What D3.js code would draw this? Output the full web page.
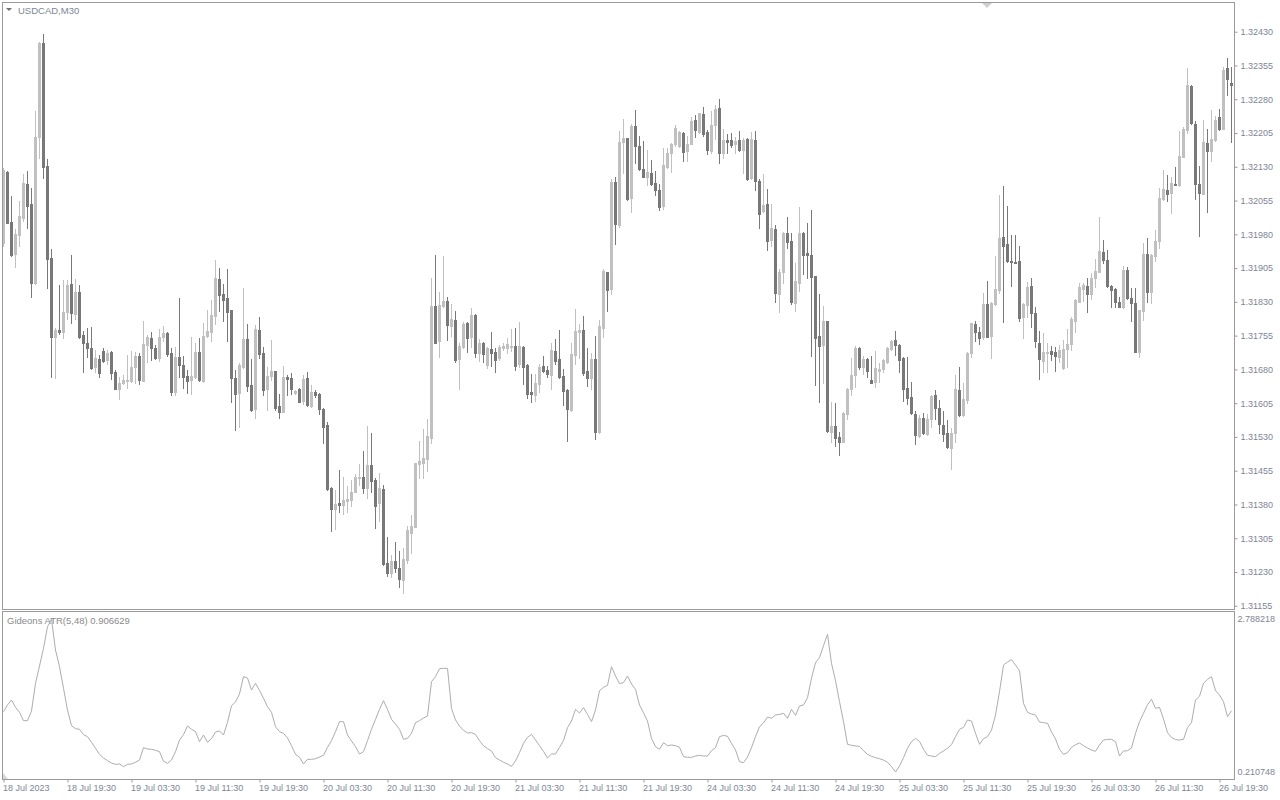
<!DOCTYPE html>
<html><head><meta charset="utf-8">
<script src="https://cdn.jsdelivr.net/npm/d3@7"></script>
<style>html,body{margin:0;padding:0;background:#fff;overflow:hidden}svg{display:block}text{font-family:"Liberation Sans",Arial,sans-serif}</style>
</head><body><svg id="c" width="1280" height="800"></svg>
<script>
const symbolTitle = "USDCAD,M30";
const atrTitle = "Gideons ATR(5,48) 0.906629";
const opens=[1.31961,1.32119,1.32008,1.31936,1.31979,1.32017,1.32092,1.32048,1.31871,1.32197,
1.32406,1.32132,1.31928,1.31753,1.31768,1.31764,1.31808,1.31870,1.31804,1.31852,
1.31756,1.31738,1.31727,1.31685,1.31702,1.31721,1.31701,1.31719,1.31674,1.31637,
1.31649,1.31655,1.31655,1.31686,1.31710,1.31655,1.31735,1.31749,1.31727,1.31706,
1.31751,1.31760,1.31717,1.31629,1.31707,1.31690,1.31665,1.31656,1.31664,1.31719,
1.31655,1.31754,1.31764,1.31799,1.31881,1.31847,1.31838,1.31812,1.31661,1.31628,
1.31686,1.31748,1.31645,1.31592,1.31768,1.31717,1.31636,1.31665,1.31676,1.31599,
1.31586,1.31663,1.31661,1.31628,1.31637,1.31610,1.31661,1.31599,1.31630,1.31625,
1.31592,1.31556,1.31417,1.31370,1.31383,1.31379,1.31388,1.31390,1.31408,1.31439,
1.31440,1.31417,1.31468,1.31434,1.31384,1.31414,1.31249,1.31228,1.31254,1.31239,
1.31212,1.31257,1.31316,1.31331,1.31469,1.31473,1.31480,1.31528,1.31821,1.31742,
1.31821,1.31832,1.31777,1.31790,1.31703,1.31730,1.31784,1.31751,1.31801,1.31716,
1.31739,1.31690,1.31726,1.31719,1.31706,1.31728,1.31728,1.31730,1.31732,1.31691,
1.31730,1.31690,1.31629,1.31624,1.31647,1.31688,1.31679,1.31668,1.31721,1.31703,
1.31665,1.31634,1.31590,1.31712,1.31762,1.31768,1.31676,1.31661,1.31703,1.31540,
1.31771,1.31896,1.31858,1.32097,1.32001,1.32186,1.32195,1.32061,1.32221,1.32176,
1.32125,1.32108,1.32117,1.32095,1.32078,1.32043,1.32129,1.32160,1.32180,1.32177,
1.32204,1.32166,1.32181,1.32234,1.32208,1.32247,1.32208,1.32165,1.32223,1.32260,
1.32161,1.32189,1.32189,1.32181,1.32189,1.32167,1.32192,1.32104,1.32189,1.32099,
1.32032,1.32047,1.31967,1.31992,1.31848,1.31896,1.31984,1.31965,1.31828,1.31872,
1.31984,1.31938,1.31934,1.31887,1.31754,1.31734,1.31787,1.31542,1.31554,1.31530,
1.31519,1.31582,1.31636,1.31668,1.31728,1.31686,1.31703,1.31656,1.31653,1.31677,
1.31681,1.31697,1.31725,1.31745,1.31734,1.31706,1.31639,1.31619,1.31581,1.31532,
1.31573,1.31536,1.31570,1.31623,1.31595,1.31556,1.31539,1.31506,1.31538,1.31634,
1.31579,1.31612,1.31716,1.31781,1.31762,1.31751,1.31825,1.31755,1.31825,1.31856,
1.31973,1.31958,1.31921,1.31919,1.31921,1.31797,1.31823,1.31865,1.31806,1.31739,
1.31699,1.31717,1.31721,1.31718,1.31708,1.31682,1.31725,1.31736,1.31788,1.31830,
1.31858,1.31865,1.31847,1.31884,1.31897,1.31941,1.31923,1.31865,1.31858,1.31829,
1.31819,1.31901,1.31839,1.31828,1.31718,1.31810,1.31936,1.31852,1.31932,1.31965,
1.32058,1.32078,1.32072,1.32092,1.32090,1.32152,1.32212,1.32309,1.32224,1.32092,
1.32070,1.32182,1.32166,1.32189,1.32240,1.32215,1.32349,1.32315];
const highs=[1.32127,1.32121,1.32066,1.31992,1.32054,1.32114,1.32121,1.32082,1.32254,1.32407,
1.32425,1.32147,1.31947,1.31771,1.31867,1.31878,1.31878,1.31934,1.31881,1.31867,
1.31766,1.31771,1.31775,1.31723,1.31712,1.31727,1.31723,1.31721,1.31679,1.31664,
1.31668,1.31712,1.31721,1.31719,1.31716,1.31788,1.31756,1.31764,1.31734,1.31769,
1.31776,1.31762,1.31727,1.31730,1.31839,1.31710,1.31679,1.31753,1.31739,1.31749,
1.31782,1.31813,1.31834,1.31924,1.31905,1.31870,1.31903,1.31813,1.31679,1.31695,
1.31860,1.31781,1.31703,1.31779,1.31797,1.31729,1.31685,1.31745,1.31677,1.31625,
1.31688,1.31668,1.31671,1.31634,1.31639,1.31668,1.31674,1.31645,1.31634,1.31627,
1.31594,1.31564,1.31418,1.31412,1.31457,1.31440,1.31421,1.31434,1.31448,1.31470,
1.31499,1.31554,1.31539,1.31438,1.31450,1.31423,1.31308,1.31268,1.31296,1.31277,
1.31283,1.31332,1.31357,1.31473,1.31522,1.31548,1.31570,1.31884,1.31934,1.31852,
1.31932,1.31841,1.31825,1.31810,1.31738,1.31786,1.31786,1.31816,1.31802,1.31747,
1.31740,1.31729,1.31762,1.31727,1.31734,1.31739,1.31749,1.31769,1.31771,1.31786,
1.31733,1.31692,1.31670,1.31670,1.31691,1.31710,1.31688,1.31739,1.31747,1.31768,
1.31680,1.31636,1.31739,1.31814,1.31781,1.31799,1.31727,1.31716,1.31754,1.31790,
1.31902,1.31897,1.32102,1.32107,1.32209,1.32236,1.32195,1.32224,1.32256,1.32198,
1.32187,1.32167,1.32145,1.32121,1.32091,1.32172,1.32171,1.32183,1.32223,1.32209,
1.32208,1.32199,1.32241,1.32246,1.32250,1.32262,1.32212,1.32254,1.32267,1.32280,
1.32215,1.32202,1.32204,1.32197,1.32209,1.32195,1.32195,1.32207,1.32209,1.32102,
1.32115,1.32081,1.32047,1.32001,1.31903,1.31986,1.32019,1.31984,1.31917,1.32041,
1.31986,1.32006,1.32034,1.31888,1.31847,1.31821,1.31788,1.31607,1.31605,1.31540,
1.31586,1.31639,1.31706,1.31733,1.31730,1.31710,1.31705,1.31710,1.31721,1.31695,
1.31703,1.31730,1.31745,1.31766,1.31736,1.31708,1.31708,1.31653,1.31588,1.31579,
1.31584,1.31580,1.31623,1.31634,1.31612,1.31588,1.31568,1.31549,1.31668,1.31685,
1.31650,1.31718,1.31784,1.31788,1.31775,1.31849,1.31876,1.31830,1.31932,1.32067,
1.32087,1.32043,1.31978,1.31978,1.31955,1.31827,1.31875,1.31882,1.31819,1.31766,
1.31760,1.31738,1.31733,1.31730,1.31734,1.31745,1.31769,1.31797,1.31836,1.31871,
1.31872,1.31882,1.31893,1.31925,1.32019,1.31967,1.31945,1.31867,1.31860,1.31841,
1.31910,1.31907,1.31860,1.31860,1.31813,1.31960,1.31971,1.31936,1.31990,1.32082,
1.32123,1.32112,1.32107,1.32129,1.32210,1.32219,1.32349,1.32312,1.32232,1.32132,
1.32234,1.32213,1.32256,1.32243,1.32258,1.32352,1.32371,1.32352];
const lows=[1.31954,1.32005,1.31932,1.31908,1.31953,1.32010,1.31995,1.31840,1.31870,1.32150,
1.32106,1.31860,1.31662,1.31661,1.31759,1.31749,1.31791,1.31784,1.31793,1.31749,
1.31675,1.31708,1.31680,1.31674,1.31664,1.31696,1.31693,1.31658,1.31636,1.31614,
1.31647,1.31639,1.31653,1.31649,1.31647,1.31654,1.31697,1.31701,1.31703,1.31699,
1.31742,1.31710,1.31622,1.31622,1.31664,1.31638,1.31628,1.31625,1.31660,1.31655,
1.31653,1.31753,1.31742,1.31781,1.31810,1.31788,1.31742,1.31608,1.31545,1.31551,
1.31682,1.31633,1.31588,1.31571,1.31705,1.31623,1.31590,1.31656,1.31590,1.31571,
1.31585,1.31623,1.31625,1.31625,1.31607,1.31602,1.31599,1.31596,1.31619,1.31581,
1.31517,1.31412,1.31320,1.31325,1.31364,1.31358,1.31363,1.31377,1.31407,1.31423,
1.31406,1.31395,1.31407,1.31327,1.31344,1.31245,1.31220,1.31218,1.31229,1.31197,
1.31183,1.31251,1.31273,1.31330,1.31438,1.31439,1.31455,1.31517,1.31738,1.31708,
1.31819,1.31745,1.31755,1.31696,1.31636,1.31727,1.31718,1.31730,1.31708,1.31699,
1.31696,1.31682,1.31688,1.31675,1.31701,1.31723,1.31716,1.31721,1.31679,1.31686,
1.31647,1.31616,1.31608,1.31610,1.31630,1.31674,1.31662,1.31636,1.31693,1.31660,
1.31601,1.31522,1.31588,1.31693,1.31705,1.31668,1.31644,1.31636,1.31525,1.31539,
1.31751,1.31810,1.31847,1.31958,1.31997,1.32117,1.32056,1.32030,1.32139,1.32123,
1.32107,1.32090,1.32090,1.32067,1.32034,1.32036,1.32127,1.32119,1.32177,1.32175,
1.32143,1.32143,1.32180,1.32197,1.32206,1.32199,1.32158,1.32160,1.32192,1.32139,
1.32150,1.32160,1.32175,1.32161,1.32165,1.32117,1.32101,1.32102,1.32078,1.31995,
1.32030,1.31945,1.31955,1.31830,1.31808,1.31872,1.31949,1.31825,1.31810,1.31855,
1.31892,1.31882,1.31710,1.31645,1.31608,1.31650,1.31540,1.31519,1.31510,1.31490,
1.31518,1.31570,1.31622,1.31641,1.31681,1.31670,1.31664,1.31649,1.31641,1.31653,
1.31675,1.31695,1.31723,1.31713,1.31674,1.31610,1.31603,1.31582,1.31514,1.31529,
1.31536,1.31534,1.31553,1.31569,1.31538,1.31521,1.31506,1.31458,1.31518,1.31577,
1.31577,1.31605,1.31708,1.31743,1.31736,1.31747,1.31751,1.31706,1.31823,1.31849,
1.31786,1.31919,1.31865,1.31916,1.31788,1.31750,1.31797,1.31775,1.31730,1.31658,
1.31674,1.31675,1.31701,1.31677,1.31697,1.31681,1.31686,1.31723,1.31762,1.31829,
1.31832,1.31808,1.31837,1.31862,1.31896,1.31917,1.31864,1.31819,1.31818,1.31818,
1.31817,1.31836,1.31788,1.31718,1.31708,1.31790,1.31830,1.31827,1.31921,1.31950,
1.32056,1.32054,1.32028,1.32089,1.32088,1.32151,1.32206,1.32226,1.32058,1.31977,
1.32069,1.32030,1.32143,1.32187,1.32212,1.32213,1.32289,1.32186];
const closes=[1.32123,1.32006,1.31934,1.31981,1.32021,1.32093,1.32043,1.31872,1.32197,1.32406,
1.32130,1.31926,1.31751,1.31768,1.31762,1.31807,1.31867,1.31806,1.31852,1.31753,
1.31738,1.31727,1.31684,1.31705,1.31673,1.31699,1.31716,1.31671,1.31637,1.31649,
1.31656,1.31657,1.31686,1.31710,1.31656,1.31736,1.31753,1.31727,1.31706,1.31753,
1.31760,1.31714,1.31629,1.31707,1.31690,1.31664,1.31655,1.31665,1.31719,1.31656,
1.31755,1.31765,1.31801,1.31882,1.31845,1.31834,1.31808,1.31661,1.31625,1.31690,
1.31748,1.31643,1.31590,1.31770,1.31714,1.31634,1.31665,1.31676,1.31595,1.31586,
1.31663,1.31659,1.31636,1.31632,1.31608,1.31659,1.31601,1.31629,1.31623,1.31591,
1.31553,1.31414,1.31370,1.31381,1.31379,1.31390,1.31392,1.31407,1.31440,1.31442,
1.31417,1.31468,1.31433,1.31377,1.31416,1.31247,1.31228,1.31254,1.31239,1.31214,
1.31259,1.31323,1.31333,1.31472,1.31477,1.31484,1.31532,1.31821,1.31739,1.31823,
1.31832,1.31779,1.31792,1.31701,1.31732,1.31781,1.31750,1.31801,1.31717,1.31739,
1.31714,1.31727,1.31717,1.31701,1.31730,1.31733,1.31736,1.31732,1.31688,1.31732,
1.31686,1.31625,1.31625,1.31649,1.31686,1.31676,1.31670,1.31723,1.31699,1.31664,
1.31633,1.31592,1.31714,1.31766,1.31768,1.31673,1.31661,1.31703,1.31542,1.31776,
1.31898,1.31856,1.32097,1.32003,1.32186,1.32195,1.32058,1.32221,1.32176,1.32125,
1.32108,1.32118,1.32092,1.32078,1.32041,1.32134,1.32161,1.32181,1.32216,1.32208,
1.32163,1.32181,1.32232,1.32212,1.32249,1.32203,1.32167,1.32223,1.32258,1.32161,
1.32189,1.32186,1.32178,1.32187,1.32167,1.32189,1.32103,1.32192,1.32099,1.32025,
1.32045,1.31965,1.31994,1.31850,1.31896,1.31984,1.31964,1.31829,1.31876,1.31982,
1.31934,1.31934,1.31886,1.31750,1.31732,1.31787,1.31544,1.31554,1.31528,1.31519,
1.31584,1.31636,1.31668,1.31728,1.31686,1.31703,1.31676,1.31650,1.31682,1.31681,
1.31701,1.31728,1.31743,1.31734,1.31701,1.31636,1.31617,1.31584,1.31534,1.31573,
1.31539,1.31570,1.31621,1.31594,1.31558,1.31537,1.31508,1.31538,1.31636,1.31579,
1.31614,1.31716,1.31782,1.31762,1.31750,1.31825,1.31753,1.31827,1.31858,1.31971,
1.31953,1.31921,1.31919,1.31917,1.31795,1.31825,1.31862,1.31806,1.31742,1.31703,
1.31718,1.31719,1.31714,1.31710,1.31723,1.31725,1.31736,1.31792,1.31834,1.31862,
1.31867,1.31847,1.31884,1.31898,1.31943,1.31923,1.31865,1.31856,1.31829,1.31819,
1.31901,1.31838,1.31827,1.31719,1.31812,1.31936,1.31852,1.31934,1.31965,1.32060,
1.32080,1.32069,1.32093,1.32090,1.32154,1.32215,1.32312,1.32228,1.32092,1.32072,
1.32184,1.32166,1.32191,1.32235,1.32214,1.32346,1.32324,1.32312];
const atrValues=[1.227,1.340,1.424,1.300,1.216,1.076,1.076,1.238,1.705,1.997,
2.294,2.659,2.788,2.266,1.985,1.620,1.255,0.991,0.941,0.930,
0.840,0.806,0.711,0.610,0.508,0.447,0.402,0.362,0.340,0.346,
0.301,0.340,0.346,0.374,0.413,0.621,0.598,0.593,0.576,0.553,
0.391,0.357,0.413,0.553,0.750,0.840,0.986,0.930,0.890,0.722,
0.834,0.711,0.772,0.885,0.902,0.834,1.048,1.328,1.390,1.525,
1.817,1.794,1.592,1.705,1.587,1.452,1.311,1.216,0.974,0.890,
0.862,0.784,0.654,0.508,0.458,0.346,0.424,0.424,0.435,0.463,
0.492,0.626,0.739,0.890,1.059,1.059,0.834,0.733,0.638,0.514,
0.553,0.739,0.930,1.098,1.266,1.412,1.266,1.098,1.019,0.930,
0.761,0.778,0.862,1.042,1.076,1.120,1.154,1.733,1.817,1.952,
1.957,1.957,1.283,1.087,0.986,0.913,0.868,0.873,0.845,0.739,
0.654,0.604,0.565,0.452,0.413,0.374,0.346,0.306,0.396,0.537,
0.694,0.795,0.845,0.750,0.654,0.559,0.447,0.514,0.514,0.626,
0.739,0.958,1.070,1.266,1.205,1.295,1.182,1.059,1.255,1.581,
1.637,1.671,1.985,1.828,1.699,1.716,1.828,1.693,1.603,1.339,
1.210,1.070,0.778,0.638,0.593,0.705,0.654,0.666,0.654,0.626,
0.469,0.458,0.458,0.480,0.492,0.480,0.480,0.570,0.621,0.806,
0.828,0.812,0.694,0.581,0.385,0.368,0.464,0.621,0.806,0.974,
1.036,1.137,1.115,1.171,1.182,1.199,1.115,1.266,1.165,1.323,
1.339,1.463,1.789,2.053,2.137,2.339,2.530,2.041,1.749,1.396,
1.059,0.677,0.660,0.649,0.643,0.570,0.508,0.475,0.452,0.435,
0.413,0.374,0.301,0.211,0.312,0.452,0.610,0.722,0.778,0.727,
0.593,0.492,0.480,0.469,0.525,0.565,0.610,0.671,0.806,0.930,
0.963,1.087,1.070,0.862,0.677,0.772,0.806,0.918,1.171,1.564,
2.013,2.064,2.103,2.013,1.918,1.368,1.216,1.188,1.171,1.053,
1.042,1.031,0.885,0.767,0.593,0.508,0.537,0.626,0.671,0.699,
0.654,0.615,0.581,0.559,0.666,0.750,0.761,0.761,0.722,0.480,
0.565,0.570,0.615,0.862,1.059,1.199,1.345,1.435,1.283,1.300,
1.104,0.873,0.795,0.756,0.750,0.761,0.958,1.042,1.424,1.486,
1.705,1.772,1.817,1.581,1.508,1.396,1.143,1.244];
const timeLabels=["18 Jul 2023","18 Jul 19:30","19 Jul 03:30","19 Jul 11:30","19 Jul 19:30","20 Jul 03:30","20 Jul 11:30","20 Jul 19:30","21 Jul 03:30","21 Jul 11:30","21 Jul 19:30","24 Jul 03:30","24 Jul 11:30","24 Jul 19:30","25 Jul 03:30","25 Jul 11:30","25 Jul 19:30","26 Jul 03:30","26 Jul 11:30","26 Jul 19:30"];
const timeLabelBars=[0,16,32,48,64,80,96,112,128,144,160,176,192,208,224,240,256,272,288,304];
const priceTicks=[1.31155,1.31230,1.31305,1.31380,1.31455,1.31530,1.31605,1.31680,1.31755,1.31830,1.31905,1.31980,1.32055,1.32130,1.32205,1.32280,1.32355,1.32430];
const atrTicks=[0.210748,2.788218];

const C_UP="#c0c0c0", C_DN="#787878", C_TXT="#7d8596", C_FRAME="#9a9a9a", C_ATR="#adadad";
const svg=d3.select("#c");
const n=opens.length;
const x=d3.scaleLinear().domain([0,n-1]).range([3,3+4*(n-1)]);
const y=d3.scaleLinear().domain([1.31150,1.32496]).range([608,2]);
const ya=d3.scaleLinear().domain([atrTicks[0],atrTicks[1]]).range([772,619]);

const bars=d3.range(n).map(i=>({i,o:opens[i],h:highs[i],l:lows[i],c:closes[i]}));
const gC=svg.append("g").attr("shape-rendering","crispEdges");
gC.selectAll("rect.w").data(bars).join("rect").attr("class","w")
 .attr("x",d=>x(d.i)).attr("width",1)
 .attr("y",d=>Math.round(y(d.h))).attr("height",d=>Math.max(1,Math.round(y(d.l))-Math.round(y(d.h))+1))
 .attr("fill",d=>d.c>=d.o?C_UP:C_DN);
gC.selectAll("rect.b").data(bars).join("rect").attr("class","b")
 .attr("x",d=>x(d.i)-1).attr("width",3)
 .attr("y",d=>Math.round(y(Math.max(d.o,d.c))))
 .attr("height",d=>Math.max(1,Math.round(y(Math.min(d.o,d.c)))-Math.round(y(Math.max(d.o,d.c)))+1))
 .attr("fill",d=>d.c>=d.o?C_UP:C_DN);

// frames
svg.append("rect").attr("x",2.5).attr("y",2.5).attr("width",1232).attr("height",607).attr("fill","none").attr("stroke",C_FRAME);
svg.append("rect").attr("x",2.5).attr("y",611.5).attr("width",1232).attr("height",168).attr("fill","none").attr("stroke",C_FRAME);

// ATR line
svg.append("path").datum(atrValues).attr("fill","none").attr("stroke",C_ATR).attr("stroke-width",1)
 .attr("d",d3.line().x((d,i)=>x(i)+0.5).y(d=>ya(d)));

// price axis
const pa=svg.append("g").attr("transform","translate(1234.5,0)")
 .call(d3.axisRight(y).tickValues(priceTicks).tickFormat(d3.format(".5f")).tickSize(3).tickPadding(3));
const aa=svg.append("g").attr("transform","translate(1234.5,0)")
 .call(d3.axisRight(ya).tickValues(atrTicks).tickFormat(d3.format(".6f")).tickSize(0).tickPadding(3));
const ta=svg.append("g").attr("transform","translate(0,779.5)")
 .call(d3.axisBottom(d3.scaleLinear().domain(x.domain()).range([3.5,3.5+4*(n-1)])).tickValues(timeLabelBars).tickFormat((d,k)=>timeLabels[k]).tickSize(3).tickPadding(2));
ta.selectAll("text").attr("text-anchor","start").attr("x",-1);
[pa,aa,ta].forEach(g=>{g.select(".domain").remove();g.selectAll("line").attr("stroke",C_FRAME);
 g.selectAll("text").attr("fill",C_TXT).style("font-size","9px").style("font-family","'Liberation Sans',Arial,sans-serif");});

// titles
svg.append("path").attr("d","M6,8 L12,8 L9,11 Z").attr("fill","#707070");
svg.append("text").attr("x",18).attr("y",14).attr("fill",C_TXT).style("font-size","9.5px").text(symbolTitle);
svg.append("text").attr("x",7).attr("y",624).attr("fill","#8a8a8a").style("font-size","9.5px").text(atrTitle);
svg.append("path").attr("d","M982,3 L992,3 L987,8 Z").attr("fill","#cfcfcf");
svg.append("path").attr("d","M3,773 L3,779 L8,779 Z").attr("fill","#d8d8d8");
</script></body></html>
